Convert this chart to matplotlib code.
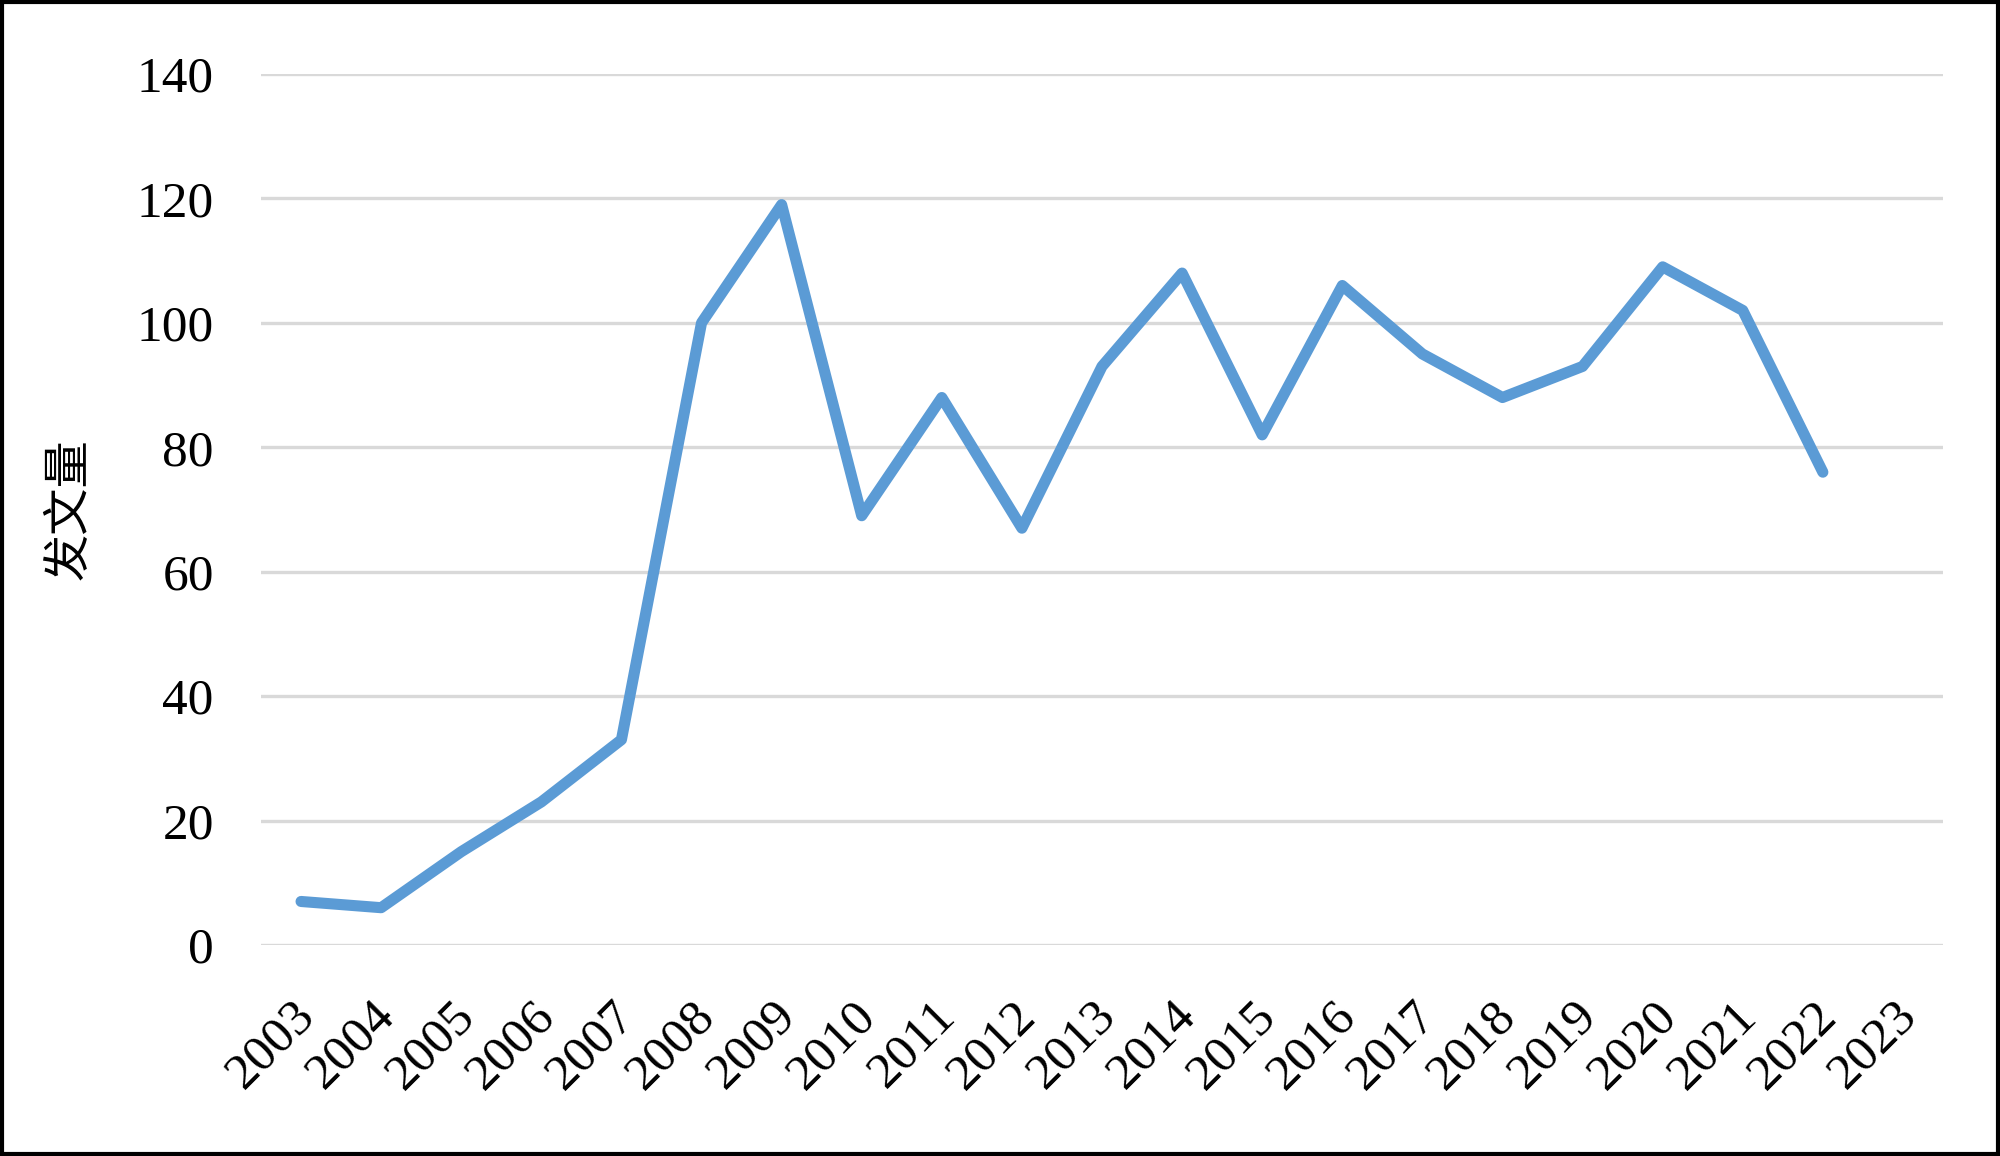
import numpy as np
import matplotlib
matplotlib.use("Agg")
import matplotlib.pyplot as plt
import matplotlib.transforms as mtransforms
from matplotlib.patches import Rectangle

plt.rcParams['font.family'] = ['Liberation Serif', 'Noto Sans CJK SC']

# data: papers per year (2023 has no value yet)
years = [str(y) for y in range(2003, 2024)]
counts = [7, 6, 15, 23, 33, 100, 119, 69, 88, 67, 93, 108, 82, 106, 95, 88, 93, 109, 102, 76, np.nan]
yticks = [0, 20, 40, 60, 80, 100, 120, 140]

fig = plt.figure(figsize=(20, 11.56), dpi=100)
ax = fig.add_axes([0.1305, 0.1825, 0.841, 0.7535])

x = np.arange(len(years))
ax.plot(x, counts, color='#5B9BD5', linewidth=8,
        solid_capstyle='round', solid_joinstyle='round', zorder=3)

ax.set_xlim(-0.5, len(years) - 0.5)
ax.set_ylim(0, 140)
ax.set_yticks(yticks)
ax.set_yticklabels([str(v) for v in yticks], fontsize=37)
ax.set_xticks(x)
ax.set_xticklabels(years, fontsize=37, rotation=45, ha='right', va='top',
                   rotation_mode='anchor')
ax.tick_params(axis='both', length=0)
ax.tick_params(axis='y', pad=34)
ax.tick_params(axis='x', pad=34)
ax.grid(axis='y', color='#D9D9D9', linewidth=2.4)
ax.set_axisbelow(True)
for s in ax.spines.values():
    s.set_visible(False)

# nudge year labels a bit to the left
shift = mtransforms.ScaledTranslation(-10 / 100, 0, fig.dpi_scale_trans)
for lab in ax.get_xticklabels():
    lab.set_transform(lab.get_transform() + shift)

ax.set_ylabel('发文量', fontsize=34)
ax.yaxis.set_label_coords(-0.1, 0.5)

# outer frame
fig.patches.append(Rectangle((0.001, 0.002), 0.998, 0.996, transform=fig.transFigure,
                             fill=False, edgecolor='black', linewidth=3))

fig.savefig('out.png', dpi=100)
